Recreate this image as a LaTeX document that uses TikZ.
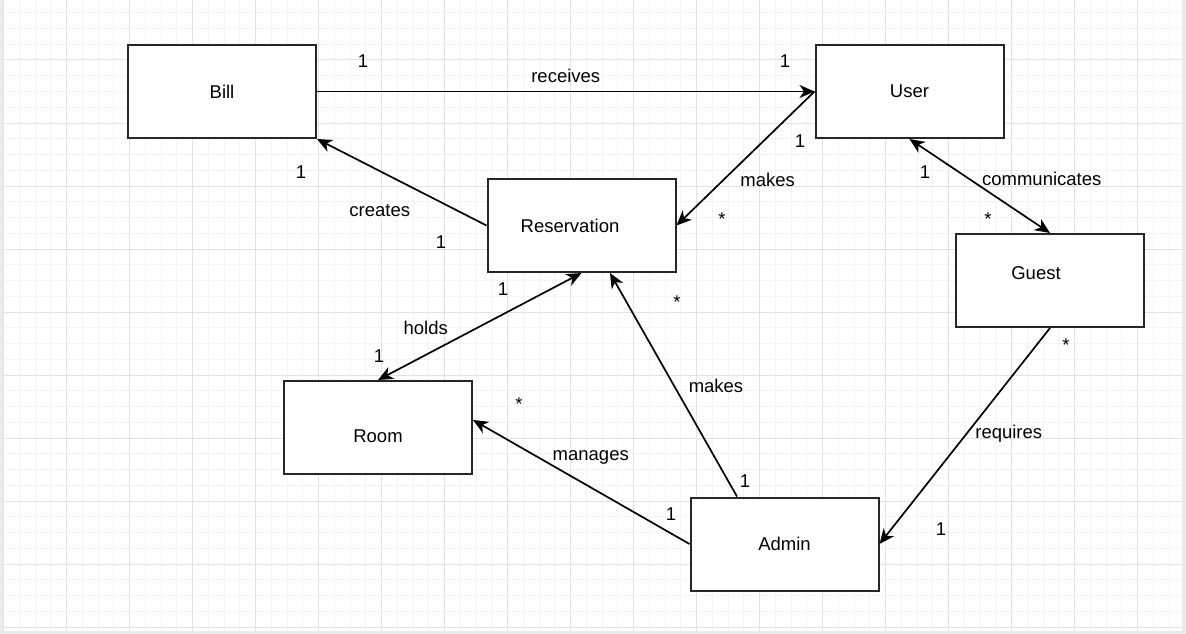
\documentclass[tikz,border=0pt]{standalone}
\usepackage{fontspec}
\setmainfont{Liberation Sans}
\usetikzlibrary{arrows.meta,positioning}
\usepackage{xcolor}
\definecolor{frame}{HTML}{EBEBEB}
\definecolor{gridmajor}{HTML}{E2E2E2}
\definecolor{gridminor}{HTML}{F3F3F3}
\definecolor{ink}{HTML}{262626}

\begin{document}
\begin{tikzpicture}[x=1pt,y=-1pt,>={Stealth[length=15pt,width=13pt,inset=4.5pt]},on grid,line width=1.7pt,font=\fontsize{18.5}{22}\selectfont]
\tikzstyle{entity}=[rectangle,draw=ink,line width=2pt,fill=white,minimum width=188pt,minimum height=93pt,inner sep=0pt]
\tikzstyle{mult}=[inner sep=0pt]
\tikzstyle{minorline}=[draw=gridminor,line width=1pt]
\tikzstyle{majorline}=[draw=gridmajor,line width=1pt]

	% page and grid
	\useasboundingbox (0,0) rectangle (1186,634);
	\fill[frame] (0,0) rectangle (1186,634);
	\fill[white] (3,0) rectangle (1182,631);
	\foreach \x in {3.5,19.25,...,1182} \draw[minorline] (\x,0) -- (\x,631);
	\foreach \y in {12.75,28.5,...,631} \draw[minorline] (3,\y) -- (1182,\y);
	\foreach \x in {3.5,66.5,...,1182} \draw[majorline] (\x,0) -- (\x,631);
	\foreach \y in {60,123,...,631} \draw[majorline] (3,\y) -- (1182,\y);

	\node[entity] 	(bill)	at (222,91.5) {Bill};
	\node[entity]	(user) [right=687.5pt of bill]	{User};
	\node[entity]	(reservation) [below right=134pt and 359.5pt of bill]	{Reservation\hspace*{23pt}};
	\node[entity]	(guest) [below right=189pt and 140.5pt of user]	[text depth=15pt]{Guest\hspace*{28pt}};
	\node[entity]	(room) [below left=202pt and 203.5pt of reservation]	[text height=30pt]{Room};
	\node[entity]	(admin) [below right=318.5pt and 203pt of reservation]	{Admin};

	\path[->]	(bill.east) edge node[yshift=15.5pt] {receives} (user.west)
				(reservation.west) edge node[pos=0.63,yshift=-39.5pt] {creates} (bill.south east)
				(user.west) edge node[pos=0.34,yshift=-43pt] {makes} (reservation.east)
				([xshift=-47.5pt]admin.north) edge node[xshift=42.5pt,yshift=-1pt] {makes} ([xshift=28.5pt]reservation.south)
				(admin.west) edge node[xshift=9.5pt,yshift=25pt] {manages} ([yshift=7.5pt]room.east)
				(guest.south) edge node[xshift=44pt,yshift=2pt] {requires} (admin.east);
	\path[<->]	(user.south) edge node[xshift=62pt,yshift=7pt] {communicates} (guest.north)
				(reservation.south) edge node[xshift=-54pt,yshift=-1.5pt] {holds} (room.north);

	% multiplicities
	\foreach \x/\y/\t [count=\i] in {363/61/1, 785/61/1, 301/172/1, 441/242/1, 800/141/1, 722/219/*,
			925/172/1, 988/219/*, 503/289/1, 379/356/1, 677/302/*, 745/481/1,
			519/404/*, 671/514/1, 1066/345/*, 941/529/1}
		\node[mult] (m\i) at (\x,\y) {\t};
\end{tikzpicture}
\end{document}
